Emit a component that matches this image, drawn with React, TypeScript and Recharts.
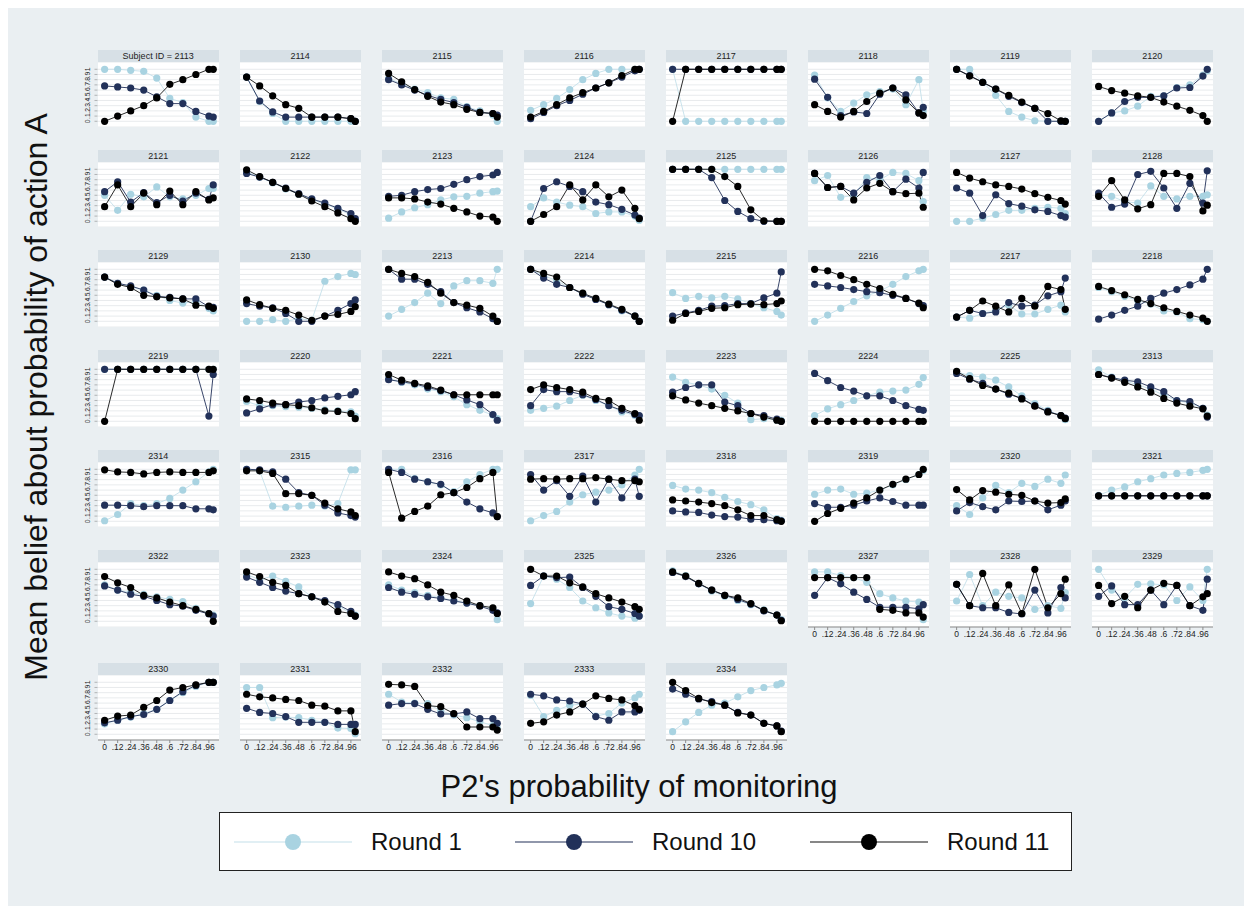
import React from 'react';
import { LineChart, Line, XAxis, YAxis, CartesianGrid } from 'recharts';

// P2's monitoring probabilities (x positions of every point)
const xValues = [0, 0.12, 0.24, 0.36, 0.48, 0.6, 0.72, 0.84, 0.96, 1];
const xTicks = [0, 0.12, 0.24, 0.36, 0.48, 0.6, 0.72, 0.84, 0.96];
const yTicks = [0, 0.1, 0.2, 0.3, 0.4, 0.5, 0.6, 0.7, 0.8, 0.9, 1];

const subjects = [
  2113, 2114, 2115, 2116, 2117, 2118, 2119, 2120,
  2121, 2122, 2123, 2124, 2125, 2126, 2127, 2128,
  2129, 2130, 2213, 2214, 2215, 2216, 2217, 2218,
  2219, 2220, 2221, 2222, 2223, 2224, 2225, 2313,
  2314, 2315, 2316, 2317, 2318, 2319, 2320, 2321,
  2322, 2323, 2324, 2325, 2326, 2327, 2328, 2329,
  2330, 2331, 2332, 2333, 2334,
];

const round1 = [
  [1, 1, .98, .96, .83, .44, .36, .08, 0, 0],
  [.85, .38, .15, 0, 0, 0, 0, 0, 0, 0],
  [.82, .72, .62, .55, .45, .42, .28, .2, .12, 0],
  [.21, .32, .44, .61, .8, .92, 1, 1, 1, 1],
  [1, 0, 0, 0, 0, 0, 0, 0, 0, 0],
  [.89, .45, .19, .35, .51, .57, .62, .32, .8, .2],
  [1, 1, .75, .5, .19, .08, .01, 0, 0, 0],
  [0, .16, .2, .29, .48, .49, .65, .7, .89, .97],
  [.5, .21, .52, .47, .66, .47, .43, .5, .63, .63],
  [.95, .85, .74, .62, .52, .42, .33, .24, .12, .03],
  [.06, .18, .26, .32, .41, .47, .48, .54, .57, .58],
  [.28, .45, .37, .31, .28, .15, .18, .18, .1, .02],
  [1, 1, 1, 1, 1, 1, 1, 1, 1, 1],
  [.78, .88, .46, .5, .84, .8, .94, .92, .78, .38],
  [0, 0, .06, .13, .21, .21, .25, .27, .25, .15],
  [.51, .48, .38, .35, .68, .48, .43, .48, .48, .51],
  [.85, .73, .66, .6, .5, .4, .35, .38, .25, .2],
  [0, 0, .03, 0, .05, .02, .77, .86, .92, .9],
  [.1, .23, .36, .54, .34, .68, .78, .78, .73, 1],
  [1, .88, .78, .65, .53, .43, .32, .2, .1, 0],
  [.55, .44, .48, .45, .48, .43, .34, .26, .19, .12],
  [0, .12, .25, .38, .49, .58, .71, .86, .97, 1],
  [.08, .06, .15, .21, .31, .14, .14, .23, .31, .18],
  [.65, .57, .48, .4, .33, .2, .18, .05, .03, 0],
  [1, 1, 1, 1, 1, 1, 1, 1, 1, 1],
  [.38, .3, .3, .28, .27, .25, .22, .2, .18, .1],
  [.82, .75, .7, .62, .57, .47, .32, .21, .12, .05],
  [.21, .25, .29, .4, .5, .4, .3, .18, .11, .1],
  [.85, .75, .7, .62, .5, .35, .03, .05, .02, .02],
  [.11, .24, .32, .4, .49, .56, .58, .6, .71, .84],
  [.95, .88, .85, .79, .66, .49, .34, .21, .11, .03],
  [.99, .85, .78, .7, .62, .5, .4, .35, .25, .12],
  [.01, .13, .34, .3, .34, .44, .6, .76, .95, 1],
  [1, .97, .29, .27, .29, .31, .29, .34, .99, .99],
  [1, 1, .82, .76, .7, .57, .76, .9, 1, 1],
  [.01, .11, .19, .37, .51, .56, .6, .7, .89, 1],
  [.69, .62, .6, .55, .46, .38, .32, .22, .05, .02],
  [.52, .6, .62, .52, .54, .6, .7, .8, .9, .98],
  [.3, .13, .45, .69, .55, .73, .67, .81, .73, .89],
  [.5, .6, .66, .76, .82, .89, .92, .94, .98, 1],
  [.7, .6, .55, .52, .47, .42, .38, .25, .15, .12],
  [.9, .8, .87, .77, .66, .47, .38, .3, .15, .12],
  [.7, .6, .55, .5, .45, .4, .35, .3, .25, .03],
  [.34, .87, .81, .65, .39, .26, .16, .1, .06, .1],
  [.97, .88, .72, .58, .48, .4, .32, .22, .12, .03],
  [.95, .95, .88, .84, .75, .53, .45, .39, .37, .03],
  [.39, .9, .3, .56, .48, .45, .23, .3, .25, .55],
  [1, .6, .45, .71, .72, .7, .4, .66, .4, 1],
  [.2, .27, .33, .4, .48, .65, .8, .92, 1, 1],
  [.9, .9, .32, .33, .32, .27, .23, .12, .11, .01],
  [.77, .62, .6, .59, .45, .37, .32, .24, .17, .12],
  [.75, .34, .46, .56, .58, .35, .4, .6, .7, .77],
  [.05, .24, .42, .56, .6, .72, .84, .9, .95, .98],
];

const round10 = [
  [.68, .66, .64, .6, .47, .34, .34, .19, .1, .08],
  [.85, .39, .18, .08, .08, .08, .08, .08, .05, 0],
  [.8, .7, .6, .5, .42, .36, .27, .17, .15, .12],
  [.05, .17, .3, .4, .52, .64, .74, .85, .97, 1],
  [1, 1, 1, 1, 1, 1, 1, 1, 1, 1],
  [.81, .46, .11, .18, .15, .52, .64, .51, .16, .27],
  [1, .88, .75, .62, .48, .36, .25, 0, 0, 0],
  [0, .16, .38, .46, .46, .49, .64, .65, .87, 1],
  [.57, .76, .37, .55, .36, .5, .39, .54, .42, .7],
  [.92, .85, .75, .64, .53, .43, .35, .25, .15, .05],
  [.48, .5, .57, .61, .63, .71, .8, .86, .89, .94],
  [0, .63, .76, .67, .57, .37, .32, .23, .12, .06],
  [1, 1, 1, .84, .4, .19, .05, 0, 0, 0],
  [.92, .65, .67, .54, .75, .88, .57, .81, .64, .94],
  [.64, .54, .11, .51, .34, .29, .22, .19, .11, .08],
  [.54, .27, .33, .9, .96, .64, .25, .73, .35, .97],
  [.85, .73, .68, .6, .48, .46, .43, .43, .28, .27],
  [.34, .29, .26, .15, 0, 0, .1, .21, .34, .41],
  [1, .81, .81, .71, .57, .36, .26, .18, .05, 0],
  [1, .83, .71, .65, .52, .42, .32, .21, .1, 0],
  [.1, .16, .21, .29, .3, .34, .34, .45, .54, .95],
  [.71, .68, .65, .61, .57, .55, .5, .44, .34, .3],
  [.08, .21, .15, .18, .36, .29, .31, .49, .57, .83],
  [.04, .12, .21, .29, .44, .54, .61, .7, .81, 1],
  [1, 1, 1, 1, 1, 1, 1, 1, .1, .9],
  [.16, .24, .32, .32, .37, .4, .45, .48, .51, .57],
  [.8, .76, .72, .65, .59, .51, .41, .32, .13, .02],
  [.3, .61, .57, .57, .51, .42, .3, .21, .13, .11],
  [.56, .65, .7, .7, .37, .3, .15, .11, .04, 0],
  [.92, .78, .65, .58, .49, .49, .4, .3, .23, .21],
  [.92, .81, .73, .62, .52, .44, .3, .19, .11, .06],
  [.9, .84, .79, .76, .66, .57, .4, .38, .25, .08],
  [.31, .31, .3, .28, .3, .3, .3, .24, .24, .22],
  [1, .99, .95, .81, .55, .5, .31, .16, .11, .08],
  [1, .94, .81, .76, .71, .55, .37, .24, .16, .09],
  [.9, .6, .78, .48, .87, .37, .81, .45, .81, .48],
  [.2, .18, .17, .12, .09, .08, .04, .03, .01, .01],
  [.34, .27, .27, .31, .39, .45, .38, .31, .31, .31],
  [.2, .36, .28, .22, .39, .38, .39, .22, .31, .39],
  [.49, .49, .49, .49, .49, .49, .49, .49, .49, .49],
  [.68, .6, .52, .48, .4, .32, .29, .21, .14, .1],
  [.85, .75, .65, .58, .53, .47, .4, .32, .19, .1],
  [.65, .56, .52, .47, .44, .39, .35, .29, .21, .16],
  [.69, .87, .84, .85, .65, .48, .28, .23, .15, .1],
  [.94, .86, .72, .6, .5, .42, .33, .2, .12, .02],
  [.5, .84, .72, .56, .42, .27, .27, .27, .24, .32],
  [.71, .3, .26, .26, .17, .14, .6, .16, .65, .45],
  [.48, .68, .32, .32, .6, .32, .69, .3, .21, .81],
  [.22, .27, .34, .38, .48, .65, .82, .94, 1, 1],
  [.5, .42, .4, .34, .23, .23, .23, .19, .19, .19],
  [.56, .59, .59, .48, .39, .39, .43, .3, .3, .21],
  [.77, .74, .66, .64, .58, .34, .27, .43, .43, .46],
  [.87, .77, .68, .63, .56, .42, .37, .21, .16, .06],
];

const round11 = [
  [0, .1, .2, .3, .45, .71, .8, .9, 1, 1],
  [.85, .68, .49, .32, .25, .08, .08, .08, .05, 0],
  [.92, .76, .61, .48, .37, .32, .23, .17, .15, .08],
  [.08, .19, .32, .45, .55, .64, .74, .88, 1, 1],
  [0, 1, 1, 1, 1, 1, 1, 1, 1, 1],
  [.32, .19, .08, .19, .38, .54, .64, .41, .16, .11],
  [1, .87, .75, .62, .5, .37, .25, .15, .01, 0],
  [.67, .59, .54, .49, .46, .37, .29, .21, .11, 0],
  [.28, .7, .28, .54, .32, .58, .32, .57, .41, .45],
  [.99, .86, .75, .63, .52, .39, .28, .16, .05, 0],
  [.45, .45, .43, .37, .33, .25, .18, .1, .08, 0],
  [0, .13, .28, .7, .41, .7, .47, .6, .25, .05],
  [1, 1, 1, 1, .86, .67, .22, .01, 0, 0],
  [.92, .65, .67, .41, .64, .73, .57, .53, .54, .27],
  [.94, .83, .76, .7, .67, .62, .53, .46, .4, .33],
  [.48, .78, .41, .24, .32, .92, .92, .86, .2, .31],
  [.85, .71, .65, .5, .47, .45, .43, .31, .29, .25],
  [.41, .32, .25, .21, .12, .02, .1, .13, .19, .28],
  [1, .92, .86, .75, .54, .36, .31, .25, .1, 0],
  [1, .92, .85, .65, .54, .44, .33, .23, .1, 0],
  [.02, .15, .19, .25, .26, .32, .33, .32, .34, .39],
  [1, .97, .88, .8, .71, .63, .52, .44, .35, .26],
  [.08, .21, .39, .29, .18, .44, .29, .67, .61, .23],
  [.67, .59, .51, .42, .34, .26, .19, .12, .06, 0],
  [0, 1, 1, 1, 1, 1, 1, 1, 1, 1],
  [.43, .4, .35, .32, .3, .26, .2, .19, .15, .05],
  [.9, .79, .73, .68, .6, .51, .51, .51, .51, .51],
  [.61, .7, .65, .61, .56, .44, .4, .25, .15, .02],
  [.49, .41, .35, .3, .25, .2, .15, .08, .02, 0],
  [0, 0, 0, 0, 0, 0, 0, 0, 0, 0],
  [.96, .82, .69, .62, .54, .43, .29, .18, .11, .05],
  [.9, .83, .75, .66, .56, .44, .35, .29, .24, .1],
  [.99, .95, .94, .91, .94, .95, .94, .94, .94, .97],
  [.97, .97, .92, .53, .53, .5, .35, .24, .18, .11],
  [.94, .06, .19, .29, .51, .55, .65, .82, .94, .09],
  [.81, .82, .81, .82, .82, .84, .81, .78, .78, .76],
  [.41, .39, .37, .34, .3, .22, .11, .11, .03, 0],
  [0, .15, .25, .35, .45, .6, .71, .81, .9, 1],
  [.61, .41, .59, .56, .52, .5, .39, .35, .36, .43],
  [.49, .49, .49, .49, .49, .49, .49, .49, .49, .49],
  [.86, .74, .65, .5, .45, .37, .3, .23, .15, 0],
  [.95, .86, .75, .69, .53, .47, .37, .19, .15, .1],
  [.95, .87, .82, .7, .56, .5, .39, .3, .26, .15],
  [1, .87, .87, .74, .66, .53, .45, .37, .28, .23],
  [.95, .87, .73, .6, .5, .45, .34, .21, .12, .01],
  [.84, .84, .84, .84, .84, .23, .21, .16, .16, .08],
  [.71, .3, .92, .3, .7, .15, 1, .26, .53, .81],
  [.69, .34, .48, .26, .6, .73, .69, .3, .47, .53],
  [.27, .35, .37, .52, .65, .85, .9, .95, 1, 1],
  [.77, .72, .7, .67, .65, .56, .54, .45, .45, .05],
  [.96, .95, .92, .55, .53, .4, .14, .14, .14, .08],
  [.21, .24, .37, .43, .58, .74, .69, .66, .55, .48],
  [1, .84, .69, .61, .56, .41, .37, .21, .16, .05],
];

const series = [
  { key: 'r1', name: 'Round 1', dot: '#a9d3e1', line: '#c4e0ea' },
  { key: 'r10', name: 'Round 10', dot: '#223159', line: '#223159' },
  { key: 'r11', name: 'Round 11', dot: '#000000', line: '#111111' },
];

const FONT = "'Liberation Sans', Arial, Helvetica, sans-serif";
const BG = '#eaeff2';
const STRIP = '#d7e0e6';

// panel geometry (container coords)
const PLOT_W = 121;
const PLOT_H = 65;
const STRIP_H = 12;
const Y_AXIS_W = 24;
const X_AXIS_H = 22;
const colLeft = (c: number) => 89.7 + 142 * c;
const rowTops = [42, 142, 242, 342, 442, 542, 655];

const fmt = (v: number) => (v === 0 ? '0' : v === 1 ? '1' : String(+v.toFixed(2)).replace(/^0/, ''));

const makeYTick = (show: boolean) => (props: any) => {
  const { y, payload } = props;
  if (!show) return <g />;
  return (
    <g>
      <line x1={20.5} x2={23.5} y1={y} y2={y} stroke="#8c8c8c" strokeWidth={0.6} />
      <text
        x={16.5}
        y={y}
        transform={`rotate(-90 16.5 ${y})`}
        textAnchor="middle"
        fontSize={6.8}
        fontFamily={FONT}
        fill="#222"
      >
        {fmt(payload.value)}
      </text>
    </g>
  );
};

const Panel = ({ idx }: { idx: number }) => {
  const row = Math.floor(idx / 8);
  const col = idx % 8;
  const left = colLeft(col);
  const top = rowTops[row];
  const showX = idx >= 45;
  const data = xValues.map((x, i) => ({
    x,
    r1: round1[idx][i],
    r10: round10[idx][i],
    r11: round11[idx][i],
  }));
  const label = idx === 0 ? `Subject ID = ${subjects[idx]}` : String(subjects[idx]);
  return (
    <>
      <div
        style={{
          position: 'absolute',
          left,
          top,
          width: PLOT_W,
          height: STRIP_H,
          background: STRIP,
          fontSize: 9,
          lineHeight: `${STRIP_H}px`,
          textAlign: 'center',
          color: '#222',
          fontFamily: FONT,
        }}
      >
        {label}
      </div>
      <div style={{ position: 'absolute', left: left - Y_AXIS_W, top: top + STRIP_H }}>
        <LineChart
          width={PLOT_W + Y_AXIS_W}
          height={PLOT_H + (showX ? X_AXIS_H : 0)}
          data={data}
          margin={{ top: 0, right: 0, bottom: 0, left: 0 }}
        >
          <CartesianGrid vertical={false} stroke="#e2e6e9" strokeWidth={0.8} fill="#ffffff" />
          <XAxis
            type="number"
            dataKey="x"
            domain={[-0.061, 1.053]}
            allowDataOverflow
            ticks={xTicks}
            interval={0}
            tickFormatter={fmt}
            hide={!showX}
            height={X_AXIS_H}
            tickSize={3}
            tickMargin={1}
            stroke="#8c8c8c"
            tick={{ fontSize: 8.5, fill: '#222', fontFamily: FONT }}
          />
          <YAxis
            type="number"
            domain={[-0.11, 1.14]}
            allowDataOverflow
            ticks={yTicks}
            interval={0}
            width={Y_AXIS_W}
            axisLine={false}
            tickLine={false}
            tick={makeYTick(col === 0)}
          />
          {series.map((s) => (
            <Line
              key={s.key}
              type="linear"
              dataKey={s.key}
              stroke={s.line}
              strokeWidth={0.9}
              dot={{ r: 3.6, fill: s.dot, stroke: s.dot, strokeWidth: 0 }}
              activeDot={false}
              isAnimationActive={false}
            />
          ))}
        </LineChart>
      </div>
    </>
  );
};

const legendLineX = [14, 295, 590];
const legendTextX = [151, 432, 727];

export default function App() {
  return (
    <div style={{ position: 'relative', width: 1238, height: 898, background: BG, fontFamily: FONT }}>
      {subjects.map((_, i) => (
        <Panel key={i} idx={i} />
      ))}

      <div
        style={{
          position: 'absolute',
          left: 28,
          top: 389,
          transform: 'translate(-50%, -50%) rotate(-90deg)',
          whiteSpace: 'nowrap',
          fontSize: 32,
          color: '#111',
        }}
      >
        Mean belief about probability of action A
      </div>

      <div
        style={{
          position: 'absolute',
          left: 631,
          top: 779,
          transform: 'translate(-50%, -50%)',
          whiteSpace: 'nowrap',
          fontSize: 31,
          color: '#111',
        }}
      >
        P2's probability of monitoring
      </div>

      <div
        style={{
          position: 'absolute',
          left: 211,
          top: 804,
          width: 853,
          height: 59,
          background: '#fff',
          border: '1px solid #222',
          boxSizing: 'border-box',
        }}
      >
        {series.map((s, i) => (
          <React.Fragment key={s.key}>
            <svg
              width={118}
              height={20}
              style={{ position: 'absolute', left: legendLineX[i], top: 19 }}
            >
              <line x1={0} x2={118} y1={10} y2={10} stroke={s.line} strokeWidth={1.2} />
              <circle cx={59} cy={10} r={8} fill={s.dot} />
            </svg>
            <div
              style={{
                position: 'absolute',
                left: legendTextX[i],
                top: 0,
                height: 57,
                lineHeight: '57px',
                fontSize: 24,
                color: '#111',
                whiteSpace: 'nowrap',
              }}
            >
              {s.name}
            </div>
          </React.Fragment>
        ))}
      </div>
    </div>
  );
}
